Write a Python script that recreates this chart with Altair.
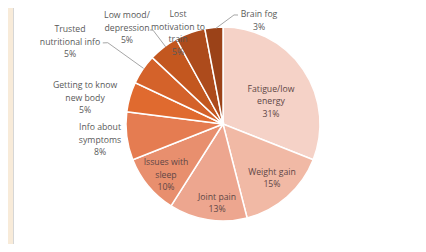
import math
import altair as alt
import pandas as pd

# ---- data ----
categories = ["Fatigue/low energy", "Weight gain", "Joint pain", "Issues with sleep",
              "Info about symptoms", "Getting to know new body", "Trusted nutritional info",
              "Low mood/ depression", "Lost motivation to train", "Brain fog"]
label_lines = [["Fatigue/low", "energy"], ["Weight gain"], ["Joint pain"], ["Issues with", "sleep"],
               ["Info about", "symptoms"], ["Getting to know", "new body"], ["Trusted", "nutritional info"],
               ["Low mood/", "depression"], ["Lost", "motivation to", "train"], ["Brain fog"]]
values = [31, 15, 13, 10, 8, 5, 5, 5, 5, 3]
colors = ["#f5d2c7", "#f1b9a5", "#eda68f", "#e88f6e", "#e57c51", "#e06a2f",
          "#d4622a", "#c3571f", "#ad4b1c", "#9b4218"]

# ---- layout (label block centre in polar terms: degrees clockwise from top, radius px) ----
CX, CY, R = 215, 116, 97
LH = 12.5
label_deg = [64.4, 137.8, 184.3, 228.2, 262.6, 280.7, 298.2, 315.0, 333.62, 19.22]
label_rad = [53.2, 72.9, 79.2, 76.5, 124.0, 140.4, 173.6, 135.8, 101.3, 109.35]
inside = [True, True, True, True, False, False, False, False, False, False]
leaders = {  # polar points (deg, r)
    "Trusted nutritional info": [(304.0, 145.0), (305.2, 141.0), (305.0, 97.0)],
    "Low mood/ depression": [(322.2, 119.0), (323.3, 117.0), (323.4, 96.0)],
    "Brain fog": [(7.84, 110.0), (5.76, 109.6), (355.8, 96.0)],
}

df = pd.DataFrame({"category": categories, "value": values, "order": range(len(values))})

trows = []
for cat, lines_, v, d, r, ins in zip(categories, label_lines, values, label_deg, label_rad, inside):
    a = math.radians(d)
    bx, by = CX + r * math.sin(a), CY - r * math.cos(a)
    all_lines = lines_ + [f"{v}%"]
    n = len(all_lines)
    for k, t in enumerate(all_lines):
        trows.append({"cat": cat, "t": t, "x": bx, "y": by + (k - (n - 1) / 2) * LH, "inside": ins})
tdf = pd.DataFrame(trows)

rows = []
for cat, pts in leaders.items():
    for i, (d, r) in enumerate(pts):
        a = math.radians(d)
        rows.append({"cat": cat, "i": i, "x": CX + r * math.sin(a), "y": CY - r * math.cos(a)})
ldf = pd.DataFrame(rows)

W, H = 410, 236

panel = alt.Chart(pd.DataFrame({"a": [0]})).mark_rect(
    fill="white", stroke="#d6d6d6", strokeWidth=1
).encode(x=alt.value(5.5), x2=alt.value(425), y=alt.value(-5), y2=alt.value(241.5))

pie = alt.Chart(df).mark_arc(outerRadius=R, stroke="white", strokeWidth=1.5).encode(
    theta=alt.Theta("value:Q", stack=True),
    order=alt.Order("order:Q"),
    color=alt.Color("category:N", scale=alt.Scale(domain=categories, range=colors), legend=None),
    x=alt.value(CX), y=alt.value(CY),
)

lines = alt.Chart(ldf).mark_line(color="#a6a6a6", strokeWidth=1).encode(
    x=alt.X("x:Q", scale=None), y=alt.Y("y:Q", scale=None),
    detail="cat:N", order="i:Q",
)

def text_layer(sel, color):
    return alt.Chart(tdf[tdf["inside"] == sel]).mark_text(
        font="Open Sans", fontSize=8.7, align="center", baseline="middle", color=color,
    ).encode(
        x=alt.X("x:Q", scale=None), y=alt.Y("y:Q", scale=None),
        text="t:N",
    )

chart = alt.layer(panel, pie, lines, text_layer(True, "#5e4646"), text_layer(False, "#595959")).properties(
    width=W, height=H, autosize=alt.AutoSizeParams(type="none"), padding=0,
    background="#f8ebd9",
).configure_view(stroke=None)

chart.save("out.html", embed_options={"renderer": "svg", "actions": False})
